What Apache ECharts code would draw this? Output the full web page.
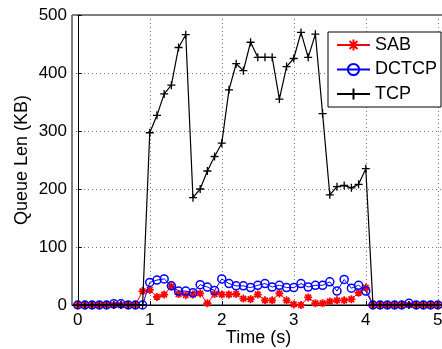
<!DOCTYPE html>
<html>
<head>
<meta charset="utf-8">
<script src="https://cdn.jsdelivr.net/npm/echarts@6/dist/echarts.min.js"></script>
<style>html,body{margin:0;padding:0;background:#fff}#c{width:442px;height:349px}</style>
</head>
<body>
<div id="c"></div>
<script>
var times = [0,0.1,0.2,0.3,0.4,0.5,0.6,0.7,0.8,0.9,
  1.0,1.1,1.2,1.3,1.4,1.5,1.6,1.7,1.8,1.9,
  2.0,2.1,2.2,2.3,2.4,2.5,2.6,2.7,2.8,2.9,
  3.0,3.1,3.2,3.3,3.4,3.5,3.6,3.7,3.8,3.9,
  4.0,4.1,4.2,4.3,4.4,4.5,4.6,4.7,4.8,4.9,5.0];
var sab = [0,0,0,0,0,0,0,0,0,24,
  26,14,18,32,19,17,18,20,3,19,
  18,18,19,11,10,18,8,8,20,8,
  1,0,13,3,3,6,8,8,10,21,
  30,0,0,0,0,0,0,0,0,0,0];
var dctcp = [0,0,0,0,0,2,2,0,0,0,
  39,43,45,33,24,24,21,35,31,25,
  45,37,33,33,30,34,37,31,34,30,
  30,37,31,34,34,40,24,44,29,34,
  24,0,0,0,0,0,3,0,0,0,0];
var tcp = [0,0,0,0,0,0,0,0,0,0,
  297,327,364,379,444,466,185,200,231,256,
  279,371,416,404,453,427,427,427,355,411,
  425,470,427,467,330,190,204,206,202,208,
  235,0,0,0,0,0,0,0,0,0,0];
var xTicks = [0,1,2,3,4,5];
var yTicks = [0,100,200,300,400,500];

function pairs(vals){ return times.map(function(t,i){ return [t, vals[i]]; }); }

var font = '"Liberation Sans", Arial, Helvetica, sans-serif';
var chart = echarts.init(document.getElementById('c'), null, {renderer:'canvas'});
var starPath = 'path://M0,-1L0,1M-1,0L1,0M-0.7,-0.7L0.7,0.7M-0.7,0.7L0.7,-0.7';
var plusPath = 'path://M0,-1L0,1M-1,0L1,0';
chart.setOption({
  animation:false,
  backgroundColor:'#fff',
  grid:{left:72, top:15, width:373, height:290, show:true, borderColor:'#000', borderWidth:1, outerBoundsMode:'none', containLabel:false},
  xAxis:{type:'value', min:-0.08, max:5.1,
    name:'Time (s)', nameLocation:'middle', nameGap:24, nameMoveOverlap:false,
    nameTextStyle:{fontFamily:font, fontSize:18, color:'#000'},
    axisLine:{show:true, onZero:false, lineStyle:{color:'#000', width:1}},
    axisTick:{show:true, inside:true, length:4, customValues:xTicks, lineStyle:{color:'#000'}},
    axisLabel:{customValues:xTicks, fontFamily:font, fontSize:17, color:'#000', margin:7},
    splitLine:{show:true, lineStyle:{color:'#777', type:[1,3], width:1}}
  },
  yAxis:{type:'value', min:0, max:500, interval:100,
    name:'Queue Len (KB)', nameLocation:'middle', nameGap:41, nameMoveOverlap:false,
    nameTextStyle:{fontFamily:font, fontSize:18, color:'#000'},
    axisLine:{show:true, lineStyle:{color:'#000', width:1}},
    axisTick:{show:true, inside:true, length:4, lineStyle:{color:'#000'}},
    axisLabel:{fontFamily:font, fontSize:17, color:'#000', margin:5},
    splitLine:{show:true, lineStyle:{color:'#777', type:[1,3], width:1}}
  },
  legend:{orient:'vertical', left:328, top:32, width:113,
    padding:[4,4,4,8], itemGap:6.5, itemWidth:33, itemHeight:14,
    backgroundColor:'#fff', borderColor:'#000', borderWidth:1, borderRadius:0,
    textStyle:{fontFamily:font, fontSize:18, color:'#000', lineHeight:18},
    data:['SAB','DCTCP','TCP']},
  series:[
    {name:'SAB', type:'line', data:pairs(sab), symbol:starPath, symbolSize:8,
     lineStyle:{color:'#ff0000', width:1},
     itemStyle:{color:'#ff0000', borderColor:'#ff0000', borderWidth:1.8}, z:2},
    {name:'DCTCP', type:'line', data:pairs(dctcp), symbol:'circle', symbolSize:8,
     lineStyle:{color:'#0000ff', width:1},
     itemStyle:{color:'rgba(0,0,0,0)', borderColor:'#0000ff', borderWidth:1.5}, z:3},
    {name:'TCP', type:'line', data:pairs(tcp), symbol:plusPath, symbolSize:8,
     lineStyle:{color:'#000000', width:1.2},
     itemStyle:{color:'#000000', borderColor:'#000000', borderWidth:1.3}, z:4}
  ]
});
</script>
</body>
</html>
